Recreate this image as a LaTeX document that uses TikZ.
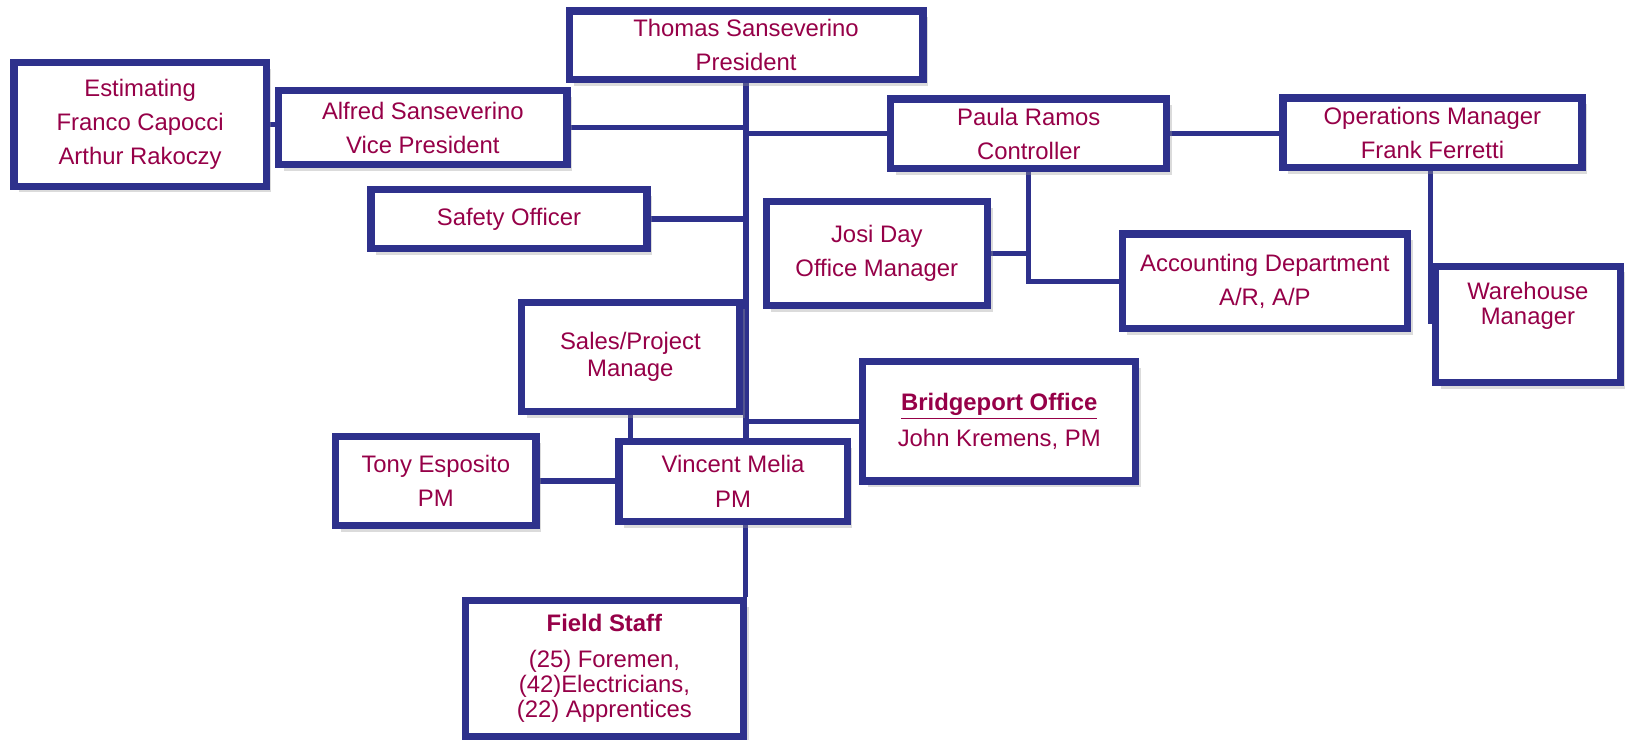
\documentclass[tikz,border=0pt]{standalone}
\usepackage{fontspec}
\setmainfont{Liberation Sans}
\usetikzlibrary{calc,shadows,backgrounds}
\definecolor{boxblue}{RGB}{46,49,140}
\definecolor{txtred}{RGB}{150,0,72}
\tikzset{
  orgbox/.style={draw=boxblue, line width=3.5pt, fill=white, inner sep=0pt,
    align=center, text=txtred, font=\fontsize{11.5}{16.5}\selectfont,
    drop shadow={shadow xshift=2.5pt, shadow yshift=-3pt, fill=black!40, opacity=0.35}},
  link/.style={draw=boxblue, line width=2.5pt},
  lbl/.style={text=txtred, align=center}
}
\begin{document}
\begin{tikzpicture}[x=0.5pt,y=-0.5pt]
\useasboundingbox (0,0) rectangle (1568,713);
% boxes
\node[orgbox, minimum width=170.5pt, minimum height=33pt] (pres) at (719,43.5) {Thomas Sanseverino\\President};
\node[orgbox, minimum width=121.5pt, minimum height=59.5pt] (est) at (135,120) {Estimating\\Franco Capocci\\Arthur Rakoczy};
\node[orgbox, minimum width=139pt, minimum height=35.5pt] (vp) at (407.5,123) {Alfred Sanseverino\\Vice President};
\node[orgbox, minimum width=133pt, minimum height=28.5pt] (safety) at (490.5,211) {Safety Officer};
\node[orgbox, minimum width=133pt, minimum height=33.5pt] (ctrl) at (991.5,129) {Paula Ramos\\Controller};
\node[orgbox, minimum width=144pt, minimum height=33.5pt] (ops) at (1380.5,128) {Operations Manager\\Frank Ferretti};
\node[orgbox, minimum width=106.5pt, minimum height=50pt] (josi) at (845,244.5) {Josi Day\\Office Manager};
\node[orgbox, minimum width=137.5pt, minimum height=45.5pt] (acct) at (1219,271) {Accounting Department\\A/R, A/P};
\node[orgbox, minimum width=89pt, minimum height=56pt,
  label={[lbl, font=\fontsize{11.5}{12}\selectfont, yshift=8.75pt]center:Warehouse\\Manager}] (wh) at (1472.5,312.5) {};
\node[orgbox, minimum width=105pt, minimum height=52.5pt, font=\fontsize{11.5}{13}\selectfont] (sales) at (607.5,344) {Sales/Project\\Manage};
\node[orgbox, minimum width=131.5pt, minimum height=57.5pt, font=\fontsize{11.5}{17.5}\selectfont] (bridge) at (963,406) {\underline{\textbf{Bridgeport Office}}\\John Kremens, PM};
\node[orgbox, minimum width=96.5pt, minimum height=43pt] (tony) at (420,463.5) {Tony Esposito\\PM};
\node[orgbox, minimum width=110pt, minimum height=38.5pt] (vince) at (706.5,464) {Vincent Melia\\PM};
\node[orgbox, minimum width=134pt, minimum height=65.5pt, font=\fontsize{11.5}{12}\selectfont] (field) at (582.5,644) {\textbf{Field Staff}\\[5.5pt](25) Foremen,\\(42)Electricians,\\(22) Apprentices};
% connectors (behind boxes)
\coordinate (opsd) at ($(ops.south)+(-2,0)$);
\coordinate (fj) at ($(field.north east)+(-1.5,0)$);
\begin{scope}[on background layer]
\draw[link] (pres.south) -- (pres.south |- vince.north);
\draw[link] (est.east) -- (est.east -| vp.west);
\draw[link] (vp.east) -- (vp.east -| pres.south);
\draw[link] (ctrl.west) -- (ctrl.west -| pres.south);
\draw[link] (safety.east) -- (safety.east -| pres.south);
\draw[link] (ctrl.east) -- (ctrl.east -| ops.west);
\draw[link] (ctrl.south) |- (acct.west);
\draw[link] (josi.east) -- (josi.east -| ctrl.south);
\draw[link] (opsd) -- (opsd |- wh.west);
\draw[link] (bridge.west) -- (bridge.west -| pres.south);
\draw[link] (sales.south) -- (sales.south |- vince.north);
\draw[link] (tony.east) -- (tony.east -| vince.west);
\draw[link] (fj) -- (fj |- vince.south);
\end{scope}
\end{tikzpicture}
\end{document}
